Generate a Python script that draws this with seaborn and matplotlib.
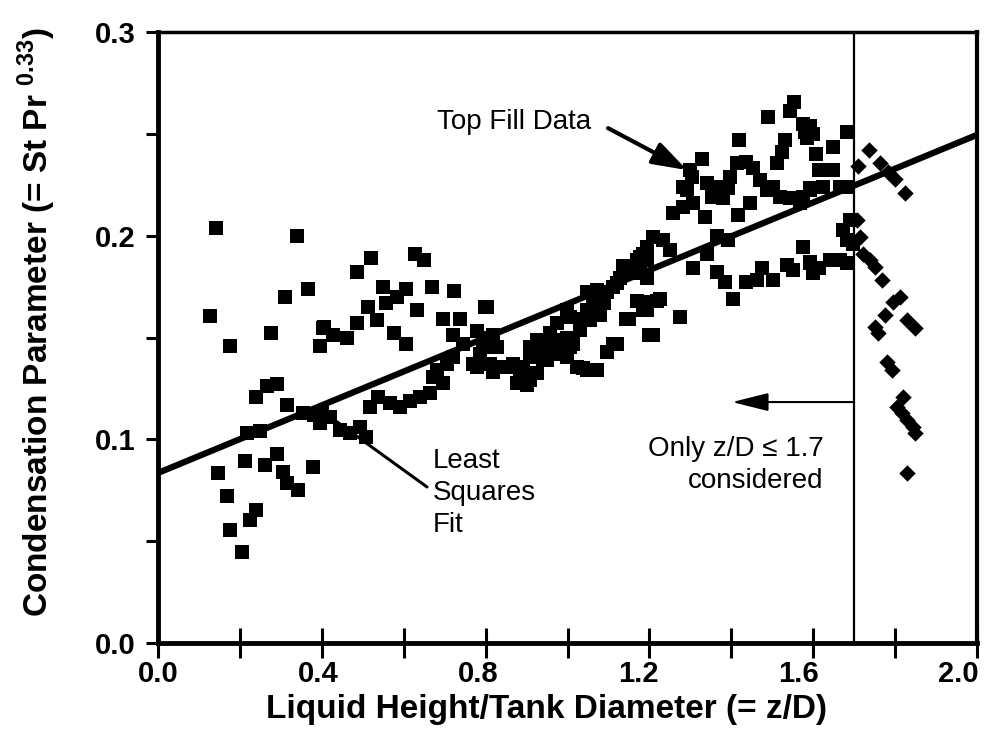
import numpy as np
import pandas as pd
import matplotlib
matplotlib.use("Agg")
import matplotlib.pyplot as plt
import matplotlib.transforms as mtransforms
import seaborn as sns

# ---- data ----
# Square markers: z/D <= 1.7 (used for the fit)
sq_x = [0.141, 0.339, 0.366, 0.310, 0.127, 0.275, 0.176, 0.402, 0.396, 0.239,
        0.265, 0.290, 0.316, 0.396, 0.217, 0.249, 0.212, 0.147, 0.261, 0.290,
        0.306, 0.314, 0.343, 0.379, 0.169, 0.239, 0.225, 0.176, 0.204, 0.355,
        0.380,
        0.519, 0.485, 0.628, 0.650, 0.549, 0.606, 0.668, 0.723, 0.584, 0.557,
        0.633, 0.514, 0.799, 0.536, 0.485, 0.697, 0.737, 0.405, 0.428, 0.461,
        0.576, 0.606, 0.721, 0.778, 0.819, 0.745, 0.770, 0.819, 0.721, 0.705,
        0.681, 0.672, 0.697, 0.664, 0.640, 0.615, 0.591, 0.567, 0.538, 0.518,
        0.493, 0.469, 0.509, 0.444, 0.420, 0.400,
        1.210, 1.185, 1.169, 1.136, 1.153, 1.177, 1.193, 1.128, 1.112, 1.096,
        1.079, 1.063, 1.047, 1.169, 1.218, 1.193, 1.149, 1.210, 1.006, 1.039,
        1.031, 1.047, 1.079, 0.974, 0.957, 0.982, 0.949, 0.990, 1.014, 0.998,
        1.022, 1.047, 1.071, 1.112, 1.096, 0.803, 0.803, 0.827, 0.794, 0.786,
        0.908, 0.925, 0.933, 0.908, 0.949, 0.811, 0.835, 0.868, 0.892, 0.884,
        0.908, 0.925, 0.900, 0.778, 0.851, 0.876, 0.965, 0.998, 0.925, 0.941,
        0.974, 1.006, 1.039, 1.071, 1.120, 1.144, 1.185, 1.200, 1.120, 1.088,
        1.055, 0.998,
        1.553, 1.543, 1.490, 1.576, 1.592, 1.584, 1.420, 1.531, 1.523, 1.511,
        1.608, 1.613, 1.328, 1.413, 1.437, 1.454, 1.299, 1.303, 1.291, 1.283,
        1.397, 1.393, 1.340, 1.372, 1.380, 1.352, 1.470, 1.486, 1.503, 1.519,
        1.543, 1.568, 1.592, 1.446, 1.258, 1.283, 1.307, 1.336, 1.417, 1.364,
        1.393, 1.340, 1.234, 1.250, 1.193, 1.193, 1.177, 1.307, 1.364, 1.385,
        1.405, 1.437, 1.474, 1.462, 1.503, 1.535, 1.551, 1.576, 1.592, 1.600,
        1.226, 1.193, 1.275,
        1.592, 1.580, 1.600, 1.682, 1.649, 1.625, 1.649, 1.592, 1.625, 1.665,
        1.682, 1.576, 1.690, 1.673, 1.682, 1.698, 1.592, 1.613, 1.641, 1.665,
        1.682]
sq_y = [0.2036, 0.2000, 0.1736, 0.1700, 0.1605, 0.1520, 0.1460, 0.1545, 0.1460, 0.1210,
        0.1260, 0.1270, 0.1170, 0.1080, 0.1030, 0.1040, 0.0893, 0.0833, 0.0874, 0.0928,
        0.0840, 0.0784, 0.0751, 0.0866, 0.0722, 0.0653, 0.0604, 0.0555, 0.0448, 0.1130,
        0.1120,
        0.1890, 0.1820, 0.1910, 0.1880, 0.1750, 0.1740, 0.1750, 0.1730, 0.1700, 0.1668,
        0.1635, 0.1650, 0.1650, 0.1586, 0.1570, 0.1590, 0.1590, 0.1550, 0.1510, 0.1500,
        0.1520, 0.1468, 0.1510, 0.1530, 0.1510, 0.1470, 0.1370, 0.1330, 0.1406, 0.1370,
        0.1340, 0.1307, 0.1275, 0.1226, 0.1210, 0.1190, 0.1160, 0.1177, 0.1210, 0.1160,
        0.1060, 0.1030, 0.1010, 0.1046, 0.1110, 0.1130,
        0.1995, 0.1910, 0.1880, 0.1850, 0.1830, 0.1815, 0.1790, 0.1790, 0.1750, 0.1725,
        0.1700, 0.1668, 0.1725, 0.1680, 0.1680, 0.1635, 0.1590, 0.1510, 0.1600, 0.1590,
        0.1537, 0.1635, 0.1610, 0.1570, 0.1520, 0.1490, 0.1455, 0.1455, 0.1470, 0.1405,
        0.1356, 0.1340, 0.1340, 0.1470, 0.1430, 0.1650, 0.1500, 0.1455, 0.1455, 0.1420,
        0.1455, 0.1490, 0.1405, 0.1405, 0.1390, 0.1370, 0.1356, 0.1370, 0.1356, 0.1307,
        0.1290, 0.1324, 0.1267, 0.1356, 0.1356, 0.1275, 0.1490, 0.1500, 0.1420, 0.1390,
        0.1420, 0.1455, 0.1350, 0.1733, 0.1767, 0.1590, 0.1635, 0.1510, 0.1470, 0.1668,
        0.1586, 0.1635,
        0.2657, 0.2610, 0.2584, 0.2550, 0.2518, 0.2478, 0.2470, 0.2470, 0.2410, 0.2355,
        0.2400, 0.2320, 0.2374, 0.2355, 0.2363, 0.2330, 0.2320, 0.2290, 0.2224, 0.2240,
        0.2290, 0.2232, 0.2257, 0.2240, 0.2183, 0.2190, 0.2273, 0.2224, 0.2240, 0.2190,
        0.2183, 0.2160, 0.2224, 0.2160, 0.2110, 0.2142, 0.2160, 0.2093, 0.2100, 0.2000,
        0.1980, 0.1910, 0.1980, 0.1930, 0.1946, 0.1880, 0.1897, 0.1840, 0.1823, 0.1774,
        0.1690, 0.1774, 0.1840, 0.1780, 0.1780, 0.1856, 0.1830, 0.1946, 0.1872, 0.1815,
        0.1690, 0.1676, 0.1600,
        0.2540, 0.2510, 0.2500, 0.2510, 0.2436, 0.2320, 0.2320, 0.2232, 0.2240, 0.2240,
        0.2240, 0.2190, 0.2077, 0.2028, 0.1980, 0.1960, 0.1864, 0.1840, 0.1880, 0.1880,
        0.1864]

# Diamond markers: z/D > 1.7 (not considered)
dm_x = [1.737, 1.710, 1.763, 1.783, 1.800, 1.824, 1.706, 1.714, 1.722, 1.738,
        1.751, 1.767, 1.796, 1.812, 1.775, 1.751, 1.759, 1.828, 1.849, 1.779,
        1.792, 1.820, 1.804, 1.816, 1.828, 1.844, 1.849, 1.830]
dm_y = [0.2423, 0.2340, 0.2355, 0.2314, 0.2280, 0.2210, 0.2077, 0.1995, 0.1910, 0.1880,
        0.1847, 0.1780, 0.1676, 0.1700, 0.1610, 0.1550, 0.1520, 0.1586, 0.1545, 0.1380,
        0.1340, 0.1210, 0.1160, 0.1128, 0.1095, 0.1060, 0.1030, 0.0833]

# Least squares fit line (end points)
fit_x = [0.0, 2.0]
fit_y = [0.0835, 0.2495]

cutoff = 1.7

x_ticks = [0.0, 0.2, 0.4, 0.6, 0.8, 1.0, 1.2, 1.4, 1.6, 1.8, 2.0]
x_ticklabels = ['0.0', '', '0.4', '', '0.8', '', '1.2', '', '1.6', '', '2.0']
y_ticks = [0.0, 0.05, 0.1, 0.15, 0.2, 0.25, 0.3]
y_ticklabels = ['0.0', '', '0.1', '', '0.2', '', '0.3']

# ---- style ----
sns.set_theme(style="ticks")
plt.rcParams['font.family'] = ['Liberation Sans', 'DejaVu Sans']
plt.rcParams['mathtext.fontset'] = 'custom'
plt.rcParams['mathtext.rm'] = 'Liberation Sans'
plt.rcParams['mathtext.bf'] = 'Liberation Sans:bold'
for k in ['text.color', 'axes.labelcolor', 'xtick.color', 'ytick.color',
          'axes.edgecolor']:
    plt.rcParams[k] = 'black'

fig = plt.figure(figsize=(9.92, 7.44), dpi=100)
ax = fig.add_axes([158 / 992, 1 - 643 / 744, 819 / 992, 611 / 744])

df_sq = pd.DataFrame({'x': sq_x, 'y': sq_y})
df_dm = pd.DataFrame({'x': dm_x, 'y': dm_y})
sns.scatterplot(data=df_sq, x='x', y='y', marker='s', s=100, color='black',
                linewidth=0, ax=ax, zorder=3)
sns.scatterplot(data=df_dm, x='x', y='y', marker='D', s=70, color='black',
                linewidth=0, ax=ax, zorder=3)
sns.lineplot(x=fit_x, y=fit_y, color='black', linewidth=4.5, ax=ax, zorder=4)
ax.axvline(cutoff, color='black', linewidth=1.6, zorder=2)

ax.set_xlim(0, 2.0)
ax.set_ylim(0, 0.3)

ax.set_xticks(x_ticks)
ax.set_xticklabels(x_ticklabels, fontsize=21, fontweight='bold', color='black')
ax.set_yticks(y_ticks)
ax.set_yticklabels(y_ticklabels, fontsize=21, fontweight='bold', color='black')

ax.tick_params(axis='x', direction='inout', length=22, width=2.2, pad=1,
               colors='black')
ax.tick_params(axis='y', direction='out', length=9, width=2.2, pad=7,
               colors='black')

# the printed x labels sit slightly left of their ticks (as in the original)
for v, lab in zip(x_ticks, ax.get_xticklabels()):
    dx = -9.5 * v / 100.0
    lab.set_transform(lab.get_transform() +
                      mtransforms.ScaledTranslation(dx, 0, fig.dpi_scale_trans))

for side, lw in [('left', 3.5), ('bottom', 3.5), ('top', 2.5), ('right', 3.0)]:
    ax.spines[side].set_visible(True)
    ax.spines[side].set_linewidth(lw)
    ax.spines[side].set_color('black')

ax.set_xlabel('Liquid Height/Tank Diameter (= z/D)', fontsize=24,
              fontweight='bold', color='black')
ax.set_ylabel('Condensation Parameter (= St Pr $^{\\mathbf{0.33}}$)',
              fontsize=24, fontweight='bold', color='black')
ax.xaxis.set_label_coords(0.474, -0.083)
ax.yaxis.set_label_coords(-0.122, 0.525)

# annotations
ax.text(0.681, 0.2558, 'Top Fill Data', fontsize=20, ha='left', va='center',
        color='black')
ax.annotate('', xy=(1.292, 0.2322), xytext=(1.099, 0.2528),
            arrowprops=dict(arrowstyle='-|>,head_length=1.5,head_width=0.5',
                            mutation_scale=14, color='black', lw=3,
                            shrinkA=0, shrinkB=0))

ax.annotate('', xy=(0.386, 0.1160), xytext=(0.657, 0.0766),
            arrowprops=dict(arrowstyle='-', color='black', lw=2.2,
                            shrinkA=0, shrinkB=0))
ax.text(0.672, 0.0955, 'Least\nSquares\nFit', fontsize=20, ha='left',
        va='top', linespacing=1.3, color='black')

ax.annotate('', xy=(1.402, 0.1183), xytext=(cutoff, 0.1183),
            arrowprops=dict(arrowstyle='-|>,head_length=1.6,head_width=0.4',
                            mutation_scale=14, color='black', lw=1.5,
                            shrinkA=0, shrinkB=0))
ax.text(1.626, 0.1018, 'Only z/D \u2264 1.7\nconsidered', fontsize=20,
        ha='right', va='top', multialignment='right', linespacing=1.3,
        color='black')

fig.savefig('out.png', dpi=100)
